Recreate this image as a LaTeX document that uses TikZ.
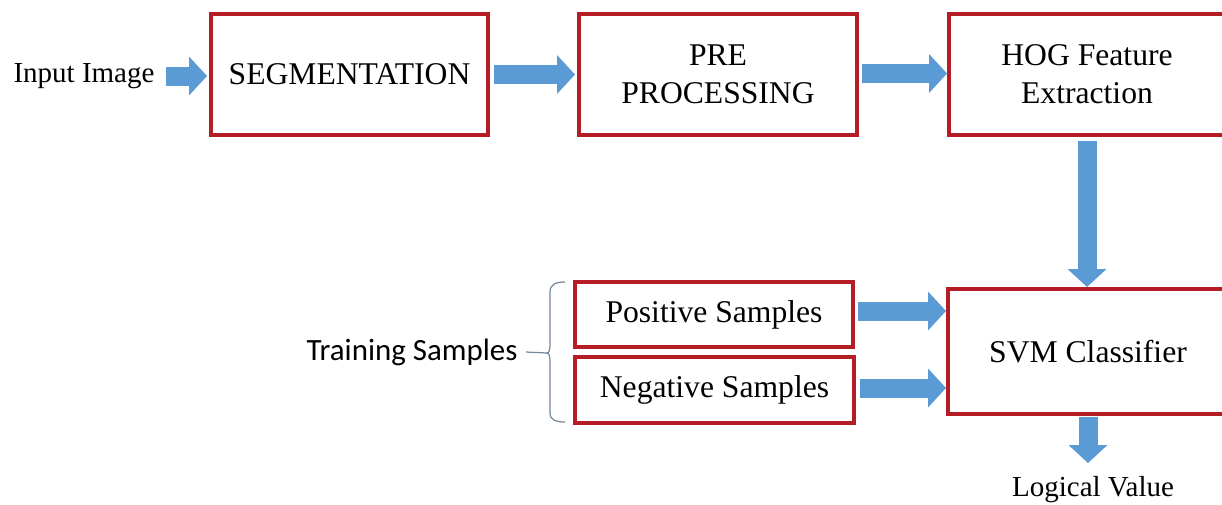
\documentclass[tikz,border=0pt]{standalone}
\usepackage{fontspec}
\setmainfont{Liberation Serif}
\newfontfamily\trainfont{Carlito}
\usetikzlibrary{arrows.meta,calc}

\definecolor{boxred}{RGB}{180,28,38}
\definecolor{flowblue}{RGB}{91,155,213}
\definecolor{bracegray}{RGB}{118,136,156}

\tikzset{
  stage/.style={draw=boxred, line width=2.3pt, inner sep=0pt, align=center,
    font=\fontsize{18}{21.5}\selectfont},
  bigstage/.style={stage, minimum height=2.42cm},
  smallstage/.style={stage, minimum width=5.57cm, minimum height=1.31cm},
  label/.style={inner sep=0pt, font=\fontsize{16.5}{19}\selectfont},
  flow/.style={draw=flowblue, line width=0.38cm,
    -{Triangle[length=0.36cm, width=0.78cm, line width=0pt, fill=flowblue]}},
  brace/.style={draw=bracegray, line width=0.7pt}
}

\begin{document}
\begin{tikzpicture}[x=0.02cm, y=-0.02cm]
  \useasboundingbox (0,0) rectangle (1222,504);

  % top row
  \node[label] (inp) at (84,76) {Input Image};
  \node[bigstage, minimum width=5.54cm] (seg) at (349.5,74.5) {SEGMENTATION};
  \node[bigstage, minimum width=5.56cm] (pre) at (718,74.5) {PRE\\PROCESSING};
  \node[bigstage, minimum width=5.52cm] (hog) at (1087,74.5) {HOG Feature\\Extraction};

  % training branch
  \node[smallstage] (pos) at (714,314.5) {Positive Samples};
  \node[smallstage] (neg) at (714.5,390) {Negative Samples};
  \node[stage, minimum width=5.6cm, minimum height=2.5cm] (svm) at (1088,351.5) {SVM Classifier};
  \node[inner sep=0pt, font=\trainfont\fontsize{17.6}{20}\selectfont] (train) at (412,352) {Training Samples};
  \node[label] (out) at (1093,490) {Logical Value};
  \coordinate (outtip) at (1088,463);

  % brace grouping the sample sets
  \coordinate (btip) at (547,353);
  \draw[brace] (565,282) .. controls (556,282) and (550,284) .. (550,292)
    -- (550,344) .. controls (550,350) and (549,353) .. (btip)
    .. controls (549,353) and (550,356) .. (550,362)
    -- (550,413) .. controls (550,420) and (556,422) .. (565,422);
  \draw[brace] ([xshift=0.16cm]train.east) -- (btip);

  % flow arrows
  \draw[flow] ([xshift=0.22cm]inp.east) -- ([xshift=-0.04cm]inp.east -| seg.west);
  \draw[flow] ([xshift=0.08cm]seg.east) -- ([xshift=-0.04cm]pre.west);
  \draw[flow] ([xshift=0.06cm,yshift=0.02cm]pre.east) -- ([yshift=0.02cm]hog.west);
  \draw[flow] ([yshift=-0.08cm]hog.south) -- (hog.south |- svm.north);
  \draw[flow] ([xshift=0.06cm,yshift=0.07cm]pos.east) -- ([yshift=0.07cm]pos.east -| svm.west);
  \draw[flow] ([xshift=0.08cm,yshift=0.04cm]neg.east) -- ([yshift=0.04cm]neg.east -| svm.west);
  \draw[flow] ([yshift=-0.02cm]svm.south) -- (outtip);
\end{tikzpicture}
\end{document}
